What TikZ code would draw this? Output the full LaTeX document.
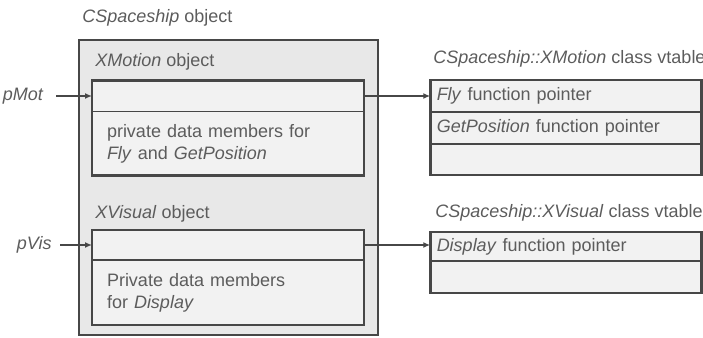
\documentclass[tikz,border=0pt]{standalone}
\usepackage{fontspec}
\setmainfont{Liberation Sans}
\usetikzlibrary{positioning, arrows.meta}
\definecolor{framegray}{HTML}{474747}
\definecolor{textgray}{HTML}{5C5C5C}
\definecolor{outerfill}{HTML}{E8E8E8}
\definecolor{rowfill}{HTML}{F2F2F2}

\begin{document}
\begin{tikzpicture}[%
    x=0.5pt, y=-0.5pt,          % pixel grid of the reference
    >={Latex[length=3.5pt,width=3pt]},
    font=\fontsize{9}{11}\selectfont,
    every node/.style={text=textgray},
    objbox/.style={draw=framegray, line width=1pt, fill=outerfill,
        minimum width=149.5pt, minimum height=147.5pt, inner sep=0pt, outer sep=0pt},
    slot/.style={draw=framegray, line width=0.9pt, fill=rowfill,
        minimum width=136pt, inner sep=0pt, outer sep=0pt},
    vrow/.style={draw=framegray, line width=0.9pt, fill=rowfill,
        minimum width=135.5pt, minimum height=16pt, inner sep=0pt, outer sep=0pt,
        text width=129pt, align=left},
    caption/.style={anchor=base west, inner sep=0pt},
    ptrname/.style={inner sep=0pt}
]
    \useasboundingbox (0,0) rectangle (703,338);

    % ==========================================
    % 1. Object (left side)
    % ==========================================
    \node[objbox] (ship) at (228.5,187.5) {};
    \node[caption] (shiplbl) at (82,22) {\textit{CSpaceship} object};

    % XMotion part
    \node[caption] (motlbl) at (95,66) {\textit{XMotion} object};
    \node[slot, minimum height=15.5pt] (mptr) at (228,96) {};
    \node[slot, minimum height=32pt, below=0pt of mptr,
        text width=121pt, align=left] (mdata)
        {private data members for\\ \textit{Fly} and \textit{GetPosition}};
    \draw[framegray, line width=1.3pt] (mptr.north west) rectangle (mdata.south east);

    % XVisual part
    \node[caption] (vislbl) at (95,218) {\textit{XVisual} object};
    \node[slot, minimum height=15pt] (vptr) at (228,245) {};
    \node[slot, minimum height=32.5pt, below=0pt of vptr,
        text width=121pt, align=left] (vdata)
        {Private data members\\ for \textit{Display}};
    \draw[framegray, line width=1.3pt] (vptr.north west) rectangle (vdata.south east);

    % ==========================================
    % 2. Interface pointers
    % ==========================================
    \node[ptrname, left=24pt of mptr] (pmot) {\textit{pMot}};
    \node[ptrname, left=20pt of vptr] (pvis) {\textit{pVis}};

    % ==========================================
    % 3. vtables (right side)
    % ==========================================
    \node[caption] (mtbllbl) at (433,63) {\textit{CSpaceship::XMotion} class vtable};
    \node[vrow] (fly) at (565.75,96) {\textit{Fly} function pointer};
    \node[vrow, below=0pt of fly] (getpos) {\textit{GetPosition} function pointer};
    \node[vrow, minimum height=15.5pt, below=0pt of getpos] (mrest) {};
    \draw[framegray, line width=1.3pt] (fly.north west) rectangle (mrest.south east);

    \node[caption] (vtbllbl) at (435,217) {\textit{CSpaceship::XVisual} class vtable};
    \node[vrow, minimum height=14.5pt] (disp) at (565.75,246.5) {\textit{Display} function pointer};
    \node[vrow, below=0pt of disp] (vrest) {};
    \draw[framegray, line width=1.3pt] (disp.north west) rectangle (vrest.south east);

    % ==========================================
    % 4. Connectors
    % ==========================================
    \draw[->, framegray, line width=0.9pt, shorten <=6pt] (pmot) -- (mptr);
    \draw[->, framegray, line width=0.9pt, shorten <=4pt] (pvis) -- (vptr);
    \draw[->, framegray, line width=0.9pt] (mptr.east) -- (mptr.east -| fly.west);
    \draw[->, framegray, line width=0.9pt] (vptr.east) -- (vptr.east -| disp.west);

\end{tikzpicture}
\end{document}
